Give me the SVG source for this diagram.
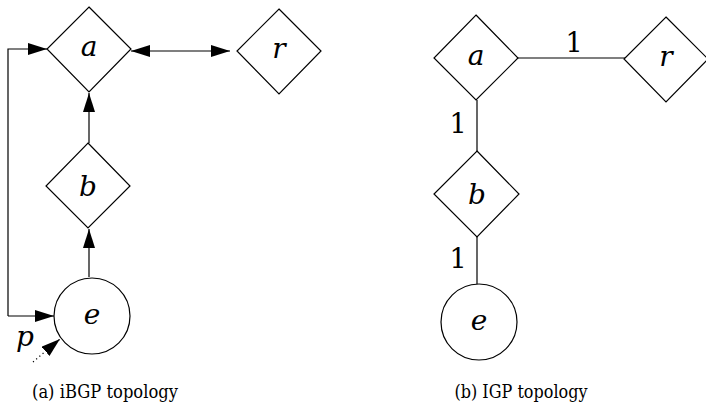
<svg xmlns="http://www.w3.org/2000/svg" width="706" height="414" viewBox="0 0 706 414">
  <style>
    .node { fill: #fff; stroke: #000; stroke-width: 1.2; }
    .lbl { font-family: "DejaVu Serif", serif; font-style: italic; font-size: 28px; text-anchor: middle; fill: #000; }
    .num { font-family: "DejaVu Serif", serif; font-size: 27px; text-anchor: middle; fill: #000; }
    .cap { font-family: "DejaVu Serif", serif; font-size: 19px; text-anchor: middle; fill: #000; }
    .edge { fill: none; stroke: #000; stroke-width: 1.2; }
  </style>
  <defs>
    <marker id="arr" markerUnits="userSpaceOnUse" markerWidth="20" markerHeight="12" refX="19" refY="6" orient="auto-start-reverse">
      <path d="M0,0 L19,6 L0,12 Z" fill="#000"/>
    </marker>
  </defs>

  <rect width="706" height="414" fill="#fff"/>

  <!-- (a) iBGP topology: connectors -->
  <g id="edges-ibgp">
    <path class="edge" d="M131,51 H230" marker-start="url(#arr)" marker-end="url(#arr)"/>
    <path class="edge" d="M89,143 V93" marker-end="url(#arr)"/>
    <path class="edge" d="M89,277 V229" marker-end="url(#arr)"/>
    <path class="edge" d="M8,316 V49 H47" marker-end="url(#arr)"/>
    <path class="edge" d="M8,316 H54" marker-end="url(#arr)"/>
    <path class="edge" d="M33,362 L60,339" stroke-dasharray="1.2 3" marker-end="url(#arr)"/>
  </g>

  <!-- (a) iBGP topology: nodes -->
  <g id="ibgp-a">
    <polygon class="node" points="89,7 131,49 89,92 47,49"/>
    <text class="lbl" x="89" y="56">a</text>
  </g>
  <g id="ibgp-r">
    <polygon class="node" points="279,9 321,51 279,94 237,51"/>
    <text class="lbl" x="279" y="58">r</text>
  </g>
  <g id="ibgp-b">
    <polygon class="node" points="88,143 130,186 88,228 46,186"/>
    <text class="lbl" x="88" y="196">b</text>
  </g>
  <g id="ibgp-e">
    <circle class="node" cx="92" cy="316" r="38"/>
    <text class="lbl" x="92" y="324">e</text>
  </g>
  <g id="ibgp-p">
    <text class="lbl" x="25" y="346">p</text>
  </g>

  <!-- (b) IGP topology: connectors with weights -->
  <g id="edges-igp">
    <path class="edge" d="M518,58 H625"/>
    <path class="edge" d="M477,100 V151"/>
    <path class="edge" d="M477,237 V284"/>
    <text class="num" x="574" y="52">1</text>
    <text class="num" x="458" y="133">1</text>
    <text class="num" x="458" y="268">1</text>
  </g>

  <!-- (b) IGP topology: nodes -->
  <g id="igp-a">
    <polygon class="node" points="476,15 518,58 476,100 434,58"/>
    <text class="lbl" x="476" y="65">a</text>
  </g>
  <g id="igp-r">
    <polygon class="node" points="666,17 708,59 666,102 624,59"/>
    <text class="lbl" x="666" y="66">r</text>
  </g>
  <g id="igp-b">
    <polygon class="node" points="477,151 519,194 477,237 434,194"/>
    <text class="lbl" x="477" y="204">b</text>
  </g>
  <g id="igp-e">
    <circle class="node" cx="479" cy="322" r="38"/>
    <text class="lbl" x="479" y="330">e</text>
  </g>

  <!-- captions -->
  <text class="cap" x="105" y="398" textLength="146" lengthAdjust="spacingAndGlyphs">(a) iBGP topology</text>
  <text class="cap" x="521" y="398" textLength="133" lengthAdjust="spacingAndGlyphs">(b) IGP topology</text>
</svg>
